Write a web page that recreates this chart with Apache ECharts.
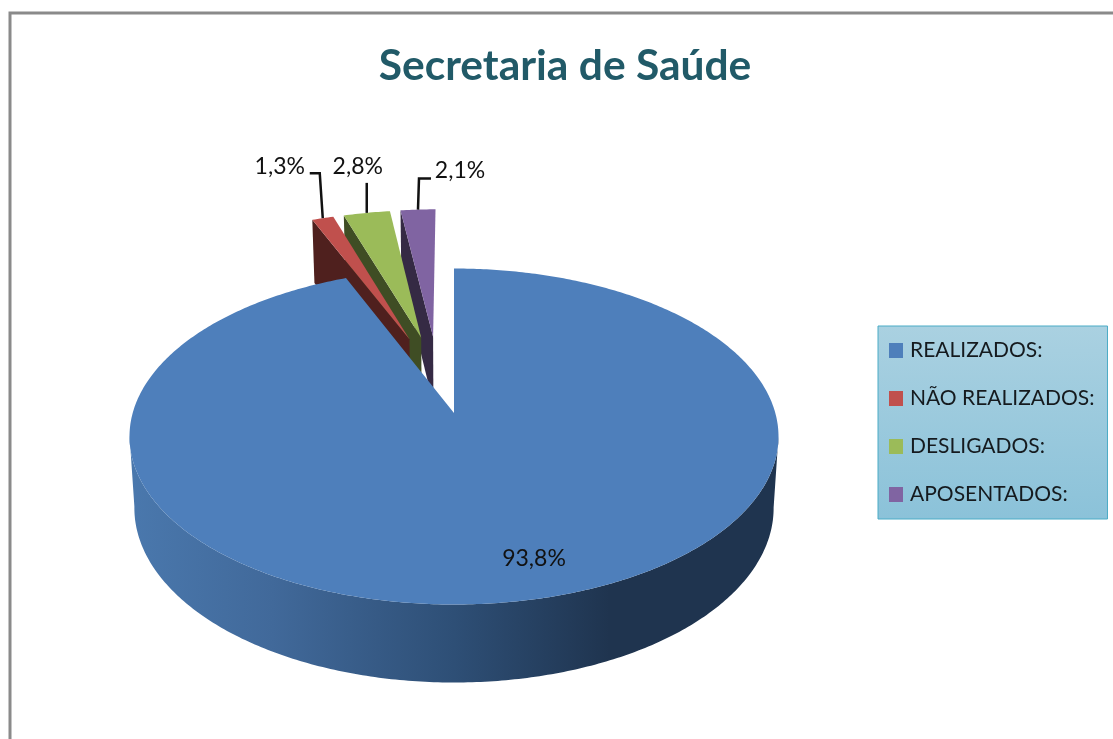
<!DOCTYPE html>
<html>
<head>
<meta charset="utf-8">
<style>html,body{margin:0;padding:0;background:#fff}#c{width:1113px;height:739px}</style>
<script src="https://cdn.jsdelivr.net/npm/echarts@6/dist/echarts.min.js"></script>
</head>
<body>
<div id="c"></div>
<script>
const titleText = 'Secretaria de Saúde';
const categories = ['REALIZADOS:', 'NÃO REALIZADOS:', 'DESLIGADOS:', 'APOSENTADOS:'];
const values = [93.8, 1.3, 2.8, 2.1];
const labels = ['93,8%', '1,3%', '2,8%', '2,1%'];

const colors = ['#4e7fbb', '#c0504d', '#9bbb59', '#8064a2'];
const wallColors = [null, '#4f201e', '#3f4d24', '#352a44'];
// Picture of a tilted disc: an ellipse plus a perspective shift of its centre
const disc = { cx: 454, cy: 436.5, rx: 324.5, ry: 168, persp: 0.14 };
const depth = { shrink: 0.985, far: 63, near: 78, farY: 219, nearY: 604 };
const explode = [0, 0.5, 0.5, 0.5];
const explodeDirDeg = [0, -17.2, -12.6, -8];
// leader elbows relative to the middle of each slice's outer arc
const leaders = [
  null,
  { pts: [[-3, -45], [-13, -45]], label: [-43, -52] },
  { pts: [[0, -30]], label: [-9, -46] },
  { pts: [[1, -31], [13, -31]], label: [42, -39] }
];
const labelFont = '23px Lato';

const total = values.reduce((a, b) => a + b, 0);
const rad = d => d * Math.PI / 180;

// disc coordinates (u right, v away from the viewer) -> top face pixel
function project(u, v) {
  const a = disc.persp, w = 1 + a * v;
  return [disc.cx + disc.rx * u * Math.sqrt(1 - a * a) / w,
          disc.cy - disc.ry * (v + a) / w];
}
// top face pixel -> same point on the lower face
function drop(p) {
  const t = depth.far + (p[1] - depth.farY) * (depth.near - depth.far) / (depth.nearY - depth.farY);
  return [disc.cx + (p[0] - disc.cx) * depth.shrink, p[1] + t];
}
// slices run clockwise from 12 o'clock in category order
function sliceAngles(i) {
  let start = 0;
  for (let k = 0; k < i; k++) start += values[k];
  return [start / total * 360, (start + values[i]) / total * 360];
}
function arcPoints(i) {
  const [a0, a1] = sliceAngles(i);
  const off = explode[i], dir = rad(explodeDirDeg[i]);
  const ox = off * Math.sin(dir), oy = off * Math.cos(dir);
  const n = Math.max(8, Math.ceil((a1 - a0) * 1.5));
  const pts = [];
  for (let k = 0; k <= n; k++) {
    const t = rad(a0 + (a1 - a0) * k / n);
    pts.push(project(ox + Math.sin(t), oy + Math.cos(t)));
  }
  return { apex: project(ox, oy), pts };
}
const wallGradient = {
  type: 'linear', x: 0, y: 0, x2: 1, y2: 0,
  colorStops: [
    { offset: 0, color: '#4a78ad' },
    { offset: 0.22, color: '#41699a' },
    { offset: 0.5, color: '#2e4f76' },
    { offset: 0.74, color: '#1f344f' },
    { offset: 1, color: '#1f344f' }
  ]
};
function renderSlice(params, api) {
  const i = params.seriesIndex;
  const { apex, pts } = arcPoints(i);
  const children = [];
  const poly = (points, fill) => children.push({
    type: 'polygon', shape: { points }, style: { fill }
  });
  if (i === 0) {
    const front = pts.filter(p => p[1] >= disc.cy - 2);
    poly(front.concat(front.map(drop).reverse()), wallGradient);
  } else {
    const corner = pts[0];
    poly([apex, corner, drop(corner), drop(apex)], wallColors[i]);
  }
  poly([apex].concat(pts), colors[i]);
  const textStyle = { text: labels[i], font: labelFont, fill: '#111', align: 'center', verticalAlign: 'middle' };
  if (i === 0) {
    children.push({ type: 'text', x: 534, y: 559, style: textStyle });
  } else {
    const mid = pts[Math.floor(pts.length / 2)];
    const l = leaders[i];
    children.push({
      type: 'polyline',
      shape: { points: [mid].concat(l.pts.map(o => [mid[0] + o[0], mid[1] + o[1]])) },
      style: { stroke: '#111', lineWidth: 2.5, fill: null }
    });
    children.push({ type: 'text', x: mid[0] + l.label[0], y: mid[1] + l.label[1], style: textStyle });
  }
  return { type: 'group', children };
}
// painted back to front: each slice covers the wall of the one behind it
const zOrder = [5, 4, 3, 2];
const option = {
  animation: false,
  backgroundColor: '#fff',
  title: {
    text: titleText, left: 560, top: 40, textAlign: 'center',
    textStyle: { fontFamily: 'Lato', fontWeight: 'bold', fontSize: 42.5, color: '#215a68' }
  },
  legend: {
    orient: 'vertical', left: 878, top: 326,
    data: categories, icon: 'rect', itemWidth: 14, itemHeight: 15, itemGap: 27,
    padding: [14, 13, 14, 11],
    backgroundColor: { type: 'linear', x: 0, y: 0, x2: 0, y2: 1,
      colorStops: [{ offset: 0, color: '#aad1e1' }, { offset: 1, color: '#8bc2d9' }] },
    borderColor: '#4bacc6', borderWidth: 1,
    selectedMode: false,
    textStyle: { fontFamily: 'Lato', fontSize: 21, color: '#151a1e', padding: [0, 0, 0, 2] }
  },
  graphic: [{
    type: 'rect', silent: true, z: -1,
    shape: { x: 10, y: 13, width: 1200, height: 900 },
    style: { fill: 'transparent', stroke: '#8a8a8a', lineWidth: 3 }
  }],
  series: categories.map((name, i) => ({
    type: 'custom',
    name,
    coordinateSystem: 'none',
    z: zOrder[i],
    itemStyle: { color: colors[i] },
    renderItem: renderSlice,
    data: [[values[i]]]
  }))
};
echarts.init(document.getElementById('c'), null, { renderer: 'canvas' }).setOption(option);
</script>
</body>
</html>
